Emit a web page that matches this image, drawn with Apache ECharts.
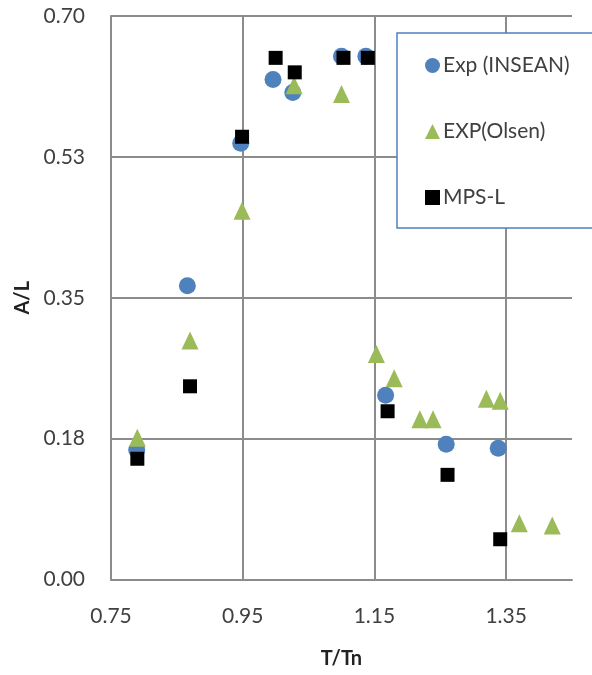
<!DOCTYPE html>
<html>
<head>
<meta charset="utf-8">
<script src="https://cdn.jsdelivr.net/npm/echarts@6/dist/echarts.min.js"></script>
<style>
  html, body { margin: 0; padding: 0; background: #fff; }
  #chart { width: 592px; height: 675px; }
</style>
</head>
<body>
<div id="chart"></div>
<script>
// Wave amplitude ratio A/L against period ratio T/Tn
const seriesNames = ['Exp (INSEAN)', 'EXP(Olsen)', 'MPS-L'];

const insean = [
  [0.789, 0.161], [0.866, 0.365], [0.947, 0.542], [0.996, 0.621], [1.026, 0.605],
  [1.100, 0.650], [1.137, 0.650], [1.167, 0.229], [1.259, 0.168], [1.338, 0.163]
];

const olsen = [
  [0.790, 0.176], [0.870, 0.297], [0.949, 0.458], [1.028, 0.614], [1.100, 0.603],
  [1.153, 0.280], [1.180, 0.250], [1.219, 0.199], [1.239, 0.199], [1.320, 0.2245],
  [1.341, 0.222], [1.370, 0.070], [1.420, 0.067]
];

const mpsL = [
  [0.790, 0.150], [0.870, 0.240], [0.949, 0.550], [1.000, 0.648], [1.029, 0.630],
  [1.103, 0.648], [1.140, 0.648], [1.170, 0.209], [1.261, 0.130], [1.341, 0.050]
];

const xTicks = [0.75, 0.95, 1.15, 1.35];
const xTickLabels = ['0.75', '0.95', '1.15', '1.35'];
const yTickLabels = ['0.00', '0.18', '0.35', '0.53', '0.70'];

const gridColor = '#8c8c8c';
const textColor = '#404040';
const fontFamily = 'Lato, "Open Sans", sans-serif';

const chart = echarts.init(document.getElementById('chart'), null, { renderer: 'canvas' });

chart.setOption({
  animation: false,
  backgroundColor: '#ffffff',
  textStyle: { fontFamily: fontFamily },
  grid: { left: 111, right: 20, top: 16, bottom: 95.5, containLabel: false },
  xAxis: {
    type: 'value',
    min: 0.75,
    max: 1.45,
    name: 'T/Tn',
    nameLocation: 'middle',
    nameGap: 69,
    nameTextStyle: { fontSize: 20, fontWeight: 'bold', color: '#222', fontFamily: fontFamily },
    axisLine: { show: true, lineStyle: { color: gridColor, width: 2 } },
    axisTick: { show: false, customValues: xTicks },
    axisLabel: {
      customValues: xTicks,
      margin: 26,
      fontSize: 21,
      color: textColor,
      fontFamily: fontFamily,
      formatter: function (v) {
        const i = xTicks.findIndex(t => Math.abs(t - v) < 1e-6);
        return i >= 0 ? xTickLabels[i] : '';
      }
    },
    splitLine: { show: true, lineStyle: { color: gridColor, width: 2 } }
  },
  yAxis: {
    type: 'value',
    min: 0,
    max: 0.7,
    interval: 0.175,
    name: 'A/L',
    nameLocation: 'middle',
    nameGap: 78,
    nameRotate: 90,
    nameTextStyle: { fontSize: 20, fontWeight: 'bold', color: '#222', fontFamily: fontFamily },
    axisLine: { show: true, lineStyle: { color: gridColor, width: 2 } },
    axisTick: { show: false },
    axisLabel: {
      margin: 26,
      fontSize: 21,
      color: textColor,
      fontFamily: fontFamily,
      formatter: function (v) { return yTickLabels[Math.round(v / 0.175)]; }
    },
    splitLine: { show: true, lineStyle: { color: gridColor, width: 2 } }
  },
  legend: {
    orient: 'vertical',
    left: 397,
    top: 33,
    padding: [22, 40, 20, 28],
    itemGap: 45,
    itemWidth: 15,
    itemHeight: 15,
    backgroundColor: '#ffffff',
    borderColor: '#4f81bd',
    borderWidth: 1.5,
    borderRadius: 0,
    textStyle: { fontSize: 21, color: textColor, fontFamily: fontFamily, padding: [0, 0, 0, -2] },
    data: [
      { name: seriesNames[0], icon: 'circle' },
      { name: seriesNames[1], icon: 'triangle' },
      { name: seriesNames[2], icon: 'rect' }
    ]
  },
  series: [
    {
      name: seriesNames[0],
      type: 'scatter',
      data: insean,
      symbol: 'circle',
      symbolSize: 17,
      itemStyle: { color: '#4f81bd', opacity: 1 },
      z: 2
    },
    {
      name: seriesNames[1],
      type: 'scatter',
      data: olsen,
      symbol: 'triangle',
      symbolSize: [17, 18],
      itemStyle: { color: '#9bbb59', opacity: 1 },
      z: 3
    },
    {
      name: seriesNames[2],
      type: 'scatter',
      data: mpsL,
      symbol: 'rect',
      symbolSize: 14,
      itemStyle: { color: '#000000', opacity: 1 },
      z: 4
    }
  ]
});
</script>
</body>
</html>
